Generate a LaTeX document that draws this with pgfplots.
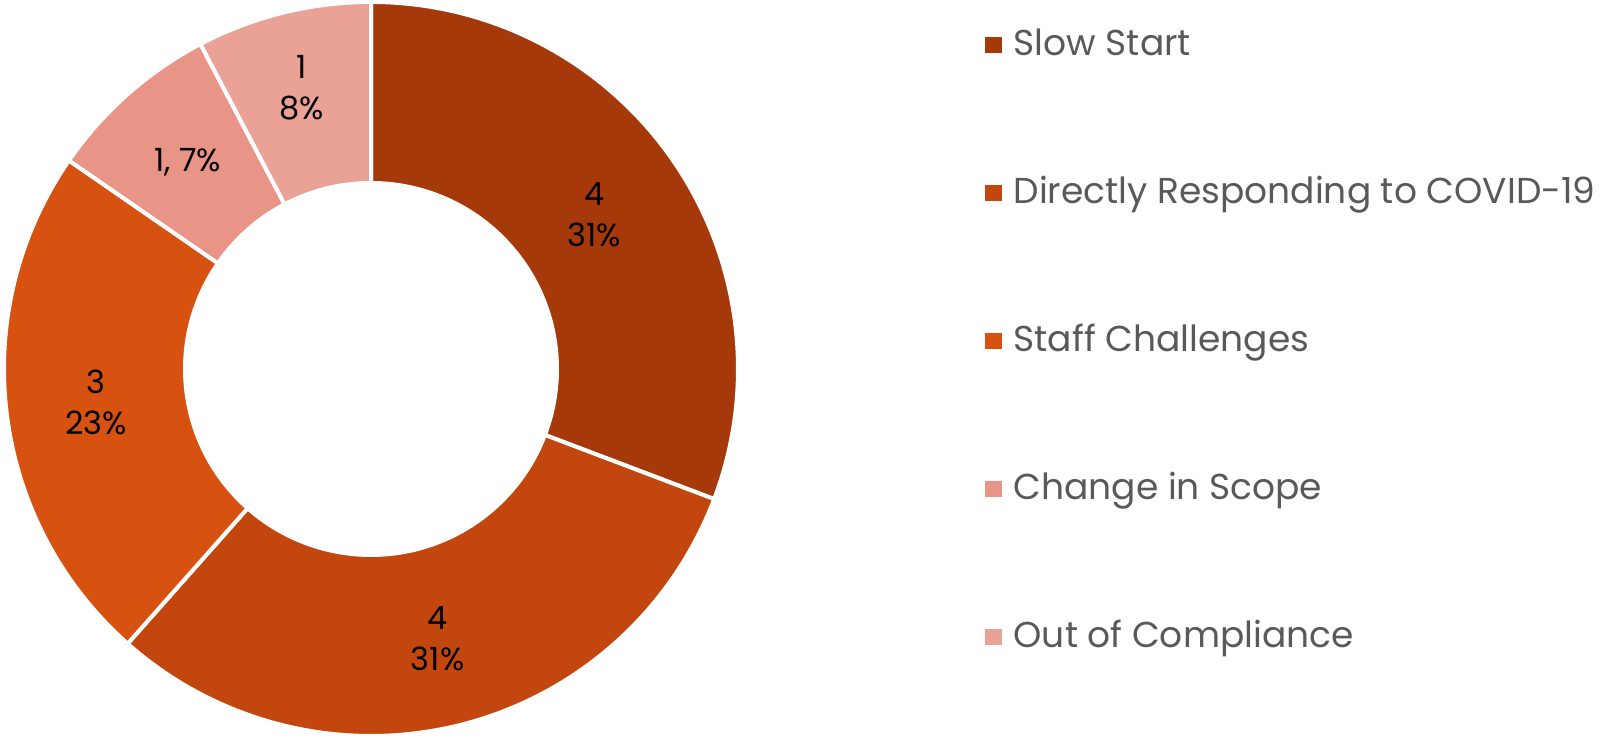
\documentclass[border=0pt]{standalone}
\usepackage{fontspec}
\setmainfont{Poppins}
\usepackage{pgfplots}
\pgfplotsset{compat=1.18}
\definecolor{c1}{HTML}{A5390A}
\definecolor{c2}{HTML}{C2460E}
\definecolor{c3}{HTML}{D75211}
\definecolor{c4}{HTML}{E89486}
\definecolor{c5}{HTML}{EAA297}
\definecolor{legtext}{HTML}{595959}
% #1 cumulative value before the slice, #2 value, #3 colour, #4 label, #5 label radius
\newcommand\slice[5]{%
  \fill[#3, draw=white, line width=1.2pt, shift={(axis cs:371,369)}]
    ({90-#1/13*360}:110.1pt)
    arc[start angle={90-#1/13*360}, end angle={90-(#1+#2)/13*360}, radius=110.1pt]
    -- ({90-(#1+#2)/13*360}:55.8pt)
    arc[start angle={90-(#1+#2)/13*360}, end angle={90-#1/13*360}, radius=55.8pt]
    -- cycle;
  \path[shift={(axis cs:371,369)}] ({90-(#1+#2/2)/13*360}:#5)
    node[align=center, text=black, inner sep=0pt, font=\fontsize{9.6}{12.3}\selectfont] {#4};
}
\newcommand\legitem[3]{%
  \fill[#1] (axis cs:985,{738-#2+3}) rectangle (axis cs:1002,{738-#2+19});
  \node[anchor=base west, inner sep=0pt, text=legtext, font=\fontsize{10.8}{13}\selectfont] at (axis cs:1013,{738-#2}) {#3};
}
\begin{document}
\begin{tikzpicture}
\useasboundingbox (0,0) rectangle (482.4pt,221.4pt);
\begin{axis}[x=0.3pt, y=0.3pt, xmin=0, xmax=1608, ymin=0, ymax=738,
  hide axis, clip=false, at={(0,0)}, anchor=south west]
\addplot[draw=none] coordinates {(0,0)};
\slice{0}{4}{c1}{4\\31\%}{81.5pt}
\slice{4}{4}{c2}{4\\31\%}{83.5pt}
\slice{8}{3}{c3}{3\\23\%}{83pt}
\slice{11}{1}{c4}{1, 7\%}{83pt}
\slice{12}{1}{c5}{1\\8\%}{87pt}
\legitem{c1}{56}{Slow Start}
\legitem{c2}{204}{Directly Responding to COVID-19}
\legitem{c3}{352}{Staff Challenges}
\legitem{c4}{500}{Change in Scope}
\legitem{c5}{648}{Out of Compliance}
\end{axis}
\end{tikzpicture}
\end{document}
